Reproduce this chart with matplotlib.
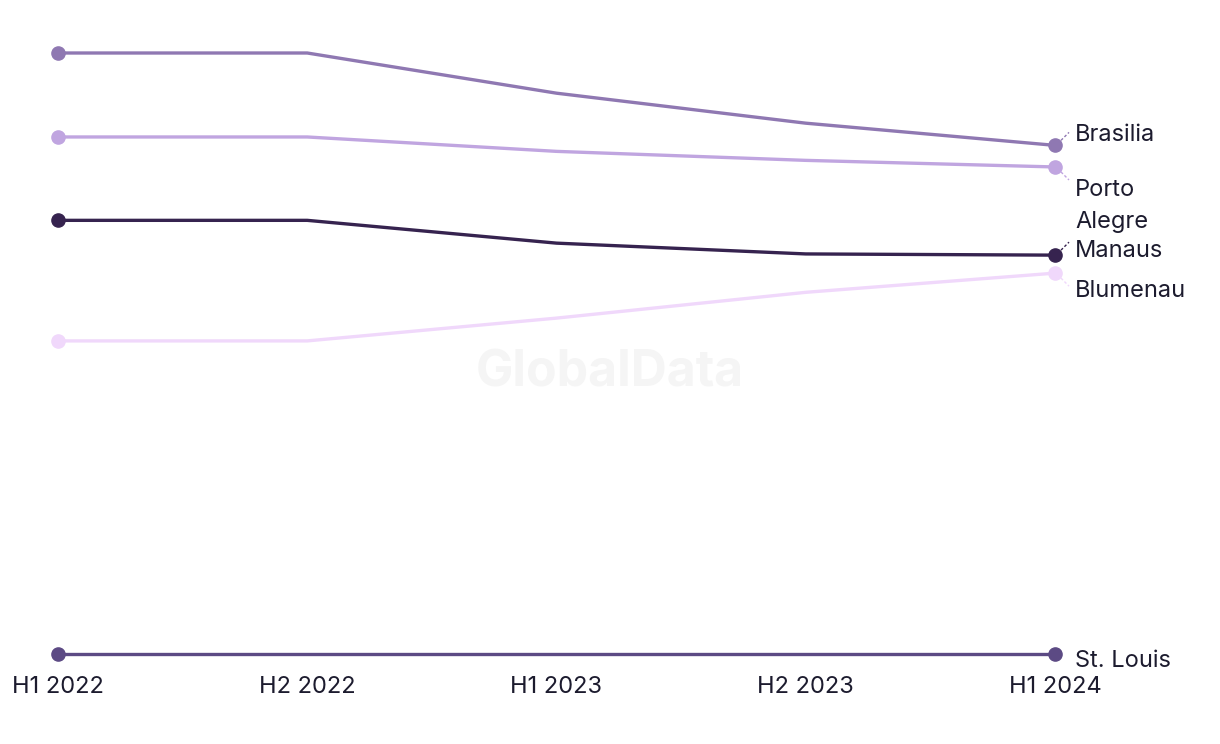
import matplotlib.pyplot as plt

periods = ["H1 2022", "H2 2022", "H1 2023", "H2 2023", "H1 2024"]
cities = ["Brasilia", "Porto\nAlegre", "Manaus", "Blumenau", "St. Louis"]
brasilia = [100.2, 100.2, 93.5, 88.5, 84.8]
porto_alegre = [86.2, 86.2, 83.8, 82.3, 81.2]
manaus = [72.3, 72.3, 68.5, 66.7, 66.5]
blumenau = [52.2, 52.2, 56.0, 60.3, 63.5]
st_louis = [0, 0, 0, 0, 0]
series = [brasilia, porto_alegre, manaus, blumenau, st_louis]
colors = ["#8f78b2", "#c0a5e0", "#36234f", "#f0d8fb", "#5c4a84"]
# label shift (px, down is positive) so the end labels don't collide
label_shift = [-10, 39, -4, 18, 7]
# leader direction: +1 label below marker, -1 above, 0 none
leader_dir = [-1, 1, -1, 1, 0]

plt.rcParams['font.family'] = ['Inter', 'DejaVu Sans']
text_color = "#1c1b2e"

fig = plt.figure(figsize=(12.2, 7.44), dpi=100)
W, H = 1220, 744
ax = fig.add_axes([58 / W, 1 - 654 / H, (1055 - 58) / W, (654 - 53) / H])
ax.set_xlim(0, len(periods) - 1)
ax.set_ylim(0, 100.2)

x = list(range(len(periods)))
for vals, c in zip(series, colors):
    ax.plot(x, vals, color=c, lw=2.4, solid_capstyle="round", clip_on=False, zorder=3)
    ax.plot([x[0], x[-1]], [vals[0], vals[-1]], "o", color=c, ms=9.5,
            clip_on=False, zorder=4)

fig.canvas.draw()
# end labels with small dotted leader lines (pixel coordinates, y up)
for name, vals, c, dy, ld in zip(cities, series, colors, label_shift, leader_dir):
    x0, y0 = ax.transData.transform((x[-1], vals[-1]))
    fig.text((x0 + 20) / W, (y0 - dy) / H, name, ha="left", va="center",
             fontsize=17, color=text_color, linespacing=1.55)
    if ld:
        ax.plot([x0 + 6, x0 + 14], [y0 - ld * 5, y0 - ld * 13], transform=None,
                color=c, lw=1, ls=(0, (2, 1.5)), clip_on=False)

ax.set_xticks(x)
ax.set_xticklabels(periods, fontsize=17, color=text_color)
ax.tick_params(axis="x", length=0, pad=16)
ax.set_yticks([])
for s in ax.spines.values():
    s.set_visible(False)

fig.text(610 / W, 1 - 373 / H, "GlobalData", ha="center", va="center",
         fontsize=36, fontweight="bold", color="#f5f5f5", zorder=0)

fig.savefig("out.png", dpi=100, facecolor="white")
